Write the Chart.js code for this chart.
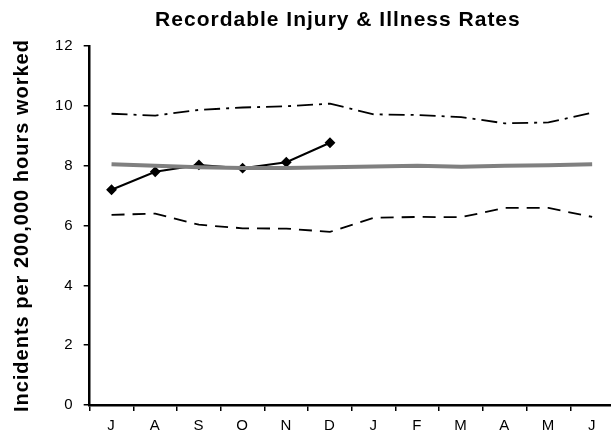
<!DOCTYPE html>
<html>
<head>
<meta charset="utf-8">
<script src="https://cdn.jsdelivr.net/npm/chart.js@4"></script>
<style>
  html, body { margin: 0; padding: 0; background: #fff; overflow: hidden; }
  #wrap { width: 611px; height: 436px; overflow: hidden; }
  #wrap canvas { display: block; }
</style>
</head>
<body>
<div id="wrap"><canvas id="rates" width="620" height="441"></canvas></div>
<script>
// months, July through June
const months = ['J', 'A', 'S', 'O', 'N', 'D', 'J', 'F', 'M', 'A', 'M', 'J'];

const actualRate = [7.2, 7.8, 8.03, 7.92, 8.12, 8.77];
const averageRate = [8.05, 8.0, 7.95, 7.93, 7.93, 7.95, 7.98, 8.0, 7.97, 8.0, 8.02, 8.05];
const upperLimit = [9.74, 9.68, 9.87, 9.95, 9.99, 10.08, 9.72, 9.7, 9.63, 9.42, 9.45, 9.78];
const lowerLimit = [6.36, 6.4, 6.03, 5.91, 5.9, 5.79, 6.26, 6.29, 6.28, 6.59, 6.59, 6.29];

const yTicks = [0, 2, 4, 6, 8, 10, 12];

Chart.defaults.font.family = "'Liberation Sans', Arial, sans-serif";
Chart.defaults.color = '#000';

// the original text is set a little wider than Arial
const wideText = {
    id: 'wideText',
    beforeDraw(chart) {
        chart.ctx.letterSpacing = '1px';
    },
    afterDraw(chart) {
        chart.ctx.letterSpacing = '0px';
    }
};

const ctx = document.getElementById('rates');

new Chart(ctx, {
    type: 'line',
    data: {
        labels: months,
        datasets: [
            {
                label: 'Upper',
                data: upperLimit,
                borderColor: '#000',
                borderWidth: 1.8,
                borderDash: [16, 6, 3, 6],
                pointRadius: 0,
                tension: 0
            },
            {
                label: 'Average',
                data: averageRate,
                borderColor: '#808080',
                borderWidth: 4,
                pointRadius: 0,
                tension: 0
            },
            {
                label: 'Lower',
                data: lowerLimit,
                borderColor: '#000',
                borderWidth: 1.8,
                borderDash: [13, 8],
                pointRadius: 0,
                tension: 0
            },
            {
                label: 'Actual',
                data: actualRate,
                borderColor: '#000',
                backgroundColor: '#000',
                borderWidth: 2,
                pointStyle: 'rectRot',
                pointRadius: 4,
                tension: 0
            }
        ]
    },
    plugins: [wideText],
    options: {
        responsive: false,
        animation: false,
        layout: { padding: { left: 10, right: 2, top: 4, bottom: 0 } },
        plugins: {
            legend: { display: false },
            tooltip: { enabled: false },
            title: {
                display: true,
                // leading spaces nudge the title over the plot area like the original
                text: '       Recordable Injury & Illness Rates',
                font: { size: 21, weight: 'bold' },
                padding: { top: 4, bottom: 13 }
            }
        },
        scales: {
            x: {
                offset: true,
                grid: {
                    offset: true,
                    drawOnChartArea: false,
                    drawTicks: true,
                    tickLength: 6,
                    color: '#000',
                    lineWidth: 1.5
                },
                border: { color: '#000', width: 2.5 },
                ticks: { font: { size: 15 }, padding: 6, maxRotation: 0, autoSkip: false }
            },
            y: {
                min: 0,
                max: 12,
                afterBuildTicks: axis => {
                    axis.ticks = yTicks.map(v => ({ value: v }));
                },
                grid: {
                    drawOnChartArea: false,
                    drawTicks: true,
                    tickLength: 6,
                    color: '#000',
                    lineWidth: 1.5
                },
                border: { color: '#000', width: 2.5 },
                ticks: { font: { size: 15 }, padding: 10 },
                title: {
                    display: true,
                    text: 'Incidents per 200,000 hours worked',
                    font: { size: 20, weight: 'bold' },
                    padding: { top: 0, bottom: 13 }
                }
            }
        }
    }
});
</script>
</body>
</html>
